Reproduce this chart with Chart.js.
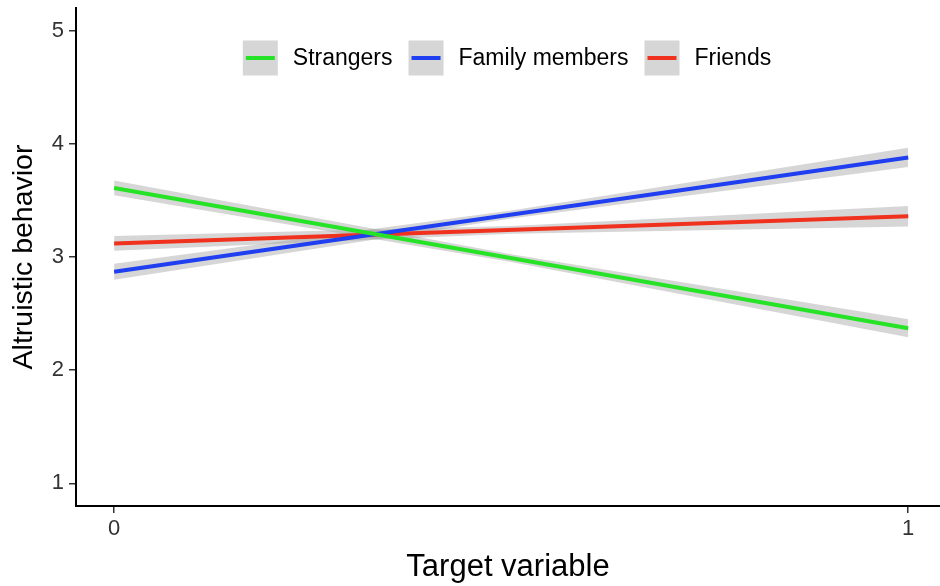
<!DOCTYPE html>
<html>
<head>
<meta charset="utf-8">
<script src="https://cdn.jsdelivr.net/npm/chart.js@4/dist/chart.umd.min.js"></script>
<style>
html,body{margin:0;padding:0;background:#fff;}
#wrap{width:940px;height:586px;}
</style>
</head>
<body>
<div id="wrap"><canvas id="c" width="940" height="586"></canvas></div>
<script>
// ---- data ----
const seriesNames = ["Strangers", "Family members", "Friends"];
const seriesColors = ["#27e327", "#1f3ff0", "#f0311d"];
const xLine = [0, 1];
const strangersLine = [3.61, 2.37];
const familyLine = [2.87, 3.88];
const friendsLine = [3.12, 3.36];
const xBand = [0, 0.5, 1];
const strangersLow = [3.545, 2.955, 2.29];
const strangersHigh = [3.675, 3.025, 2.45];
const familyLow = [2.80, 3.34, 3.795];
const familyHigh = [2.94, 3.41, 3.965];
const friendsLow = [3.055, 3.205, 3.27];
const friendsHigh = [3.185, 3.275, 3.45];
const yTicks = [1, 2, 3, 4, 5];
const xTicks = [0, 1];

const bandFill = "rgba(153,153,153,0.4)";
const FONT = "'Liberation Sans', Arial, Helvetica, sans-serif";

function pts(xs, ys) { return xs.map((x, i) => ({ x: x, y: ys[i] })); }

const lines = [strangersLine, familyLine, friendsLine];
const lows = [strangersLow, familyLow, friendsLow];
const highs = [strangersHigh, familyHigh, friendsHigh];

const datasets = [];
lines.forEach((ys, i) => {
  datasets.push({
    label: seriesNames[i], data: pts(xLine, ys), borderColor: seriesColors[i],
    borderWidth: 4, pointRadius: 0, fill: false, tension: 0, isLine: true, order: 0
  });
});
lows.forEach((lo, i) => {
  datasets.push({
    label: seriesNames[i] + " low", data: pts(xBand, lo), borderWidth: 0,
    borderColor: "rgba(0,0,0,0)", pointRadius: 0, fill: false, order: 1
  });
  datasets.push({
    label: seriesNames[i] + " high", data: pts(xBand, highs[i]), borderWidth: 0,
    borderColor: "rgba(0,0,0,0)", backgroundColor: bandFill, pointRadius: 0,
    fill: "-1", order: 1
  });
});

const legendPlugin = {
  id: "ggLegend",
  afterDraw(chart) {
    const ctx = chart.ctx;
    const ca = chart.chartArea;
    const items = chart.data.datasets.filter(d => d.isLine);
    ctx.save();
    ctx.font = "23px " + FONT;
    const key = 35, gapText = 15, gapItem = 16;
    const widths = items.map(d => key + gapText + ctx.measureText(d.label).width);
    const total = widths.reduce((a, b) => a + b, 0) + gapItem * (items.length - 1);
    let x = (ca.left + ca.right) / 2 - total / 2 - 1;
    const cy = 58;
    items.forEach((d, i) => {
      ctx.fillStyle = bandFill;
      ctx.fillRect(x, cy - key / 2, key, key);
      ctx.strokeStyle = d.borderColor;
      ctx.lineWidth = 4;
      ctx.beginPath();
      ctx.moveTo(x + 3, cy);
      ctx.lineTo(x + key - 3, cy);
      ctx.stroke();
      ctx.fillStyle = "#000";
      ctx.textBaseline = "middle";
      ctx.textAlign = "left";
      ctx.fillText(d.label, x + key + gapText, cy + 1);
      x += widths[i] + gapItem;
    });
    ctx.restore();
  }
};

new Chart(document.getElementById("c"), {
  type: "line",
  data: { datasets: datasets },
  plugins: [legendPlugin],
  options: {
    responsive: false,
    animation: false,
    layout: { padding: { left: 0, right: 0, top: 8, bottom: 0 } },
    plugins: { legend: { display: false }, tooltip: { enabled: false } },
    scales: {
      x: {
        type: "linear", min: -0.048, max: 1.04,
        afterBuildTicks: s => { s.ticks = xTicks.map(v => ({ value: v })); },
        afterFit: s => { s.height = 80; s.paddingLeft = 0; s.paddingRight = 0; },
        ticks: { font: { size: 22, family: FONT }, color: "#333", padding: 3 },
        grid: { display: true, drawOnChartArea: false, drawTicks: true, tickLength: 7, color: "#333", lineWidth: 1.5 },
        border: { display: true, color: "#000", width: 2 },
        title: { display: true, text: "Target variable", font: { size: 31, family: FONT }, color: "#000", padding: { top: 4, bottom: 0 } }
      },
      y: {
        type: "linear", min: 0.8, max: 5.2,
        afterBuildTicks: s => { s.ticks = yTicks.map(v => ({ value: v })); },
        afterFit: s => { s.width = 76; s.paddingTop = 0; s.paddingBottom = 0; },
        ticks: { font: { size: 22, family: FONT }, color: "#333", padding: 5 },
        grid: { display: true, drawOnChartArea: false, drawTicks: true, tickLength: 7, color: "#333", lineWidth: 1.5 },
        border: { display: true, color: "#000", width: 2 },
        title: { display: true, text: "Altruistic behavior", font: { size: 28.5, family: FONT }, color: "#000", padding: { top: 7, bottom: 0 } }
      }
    }
  }
});
</script>
</body>
</html>
